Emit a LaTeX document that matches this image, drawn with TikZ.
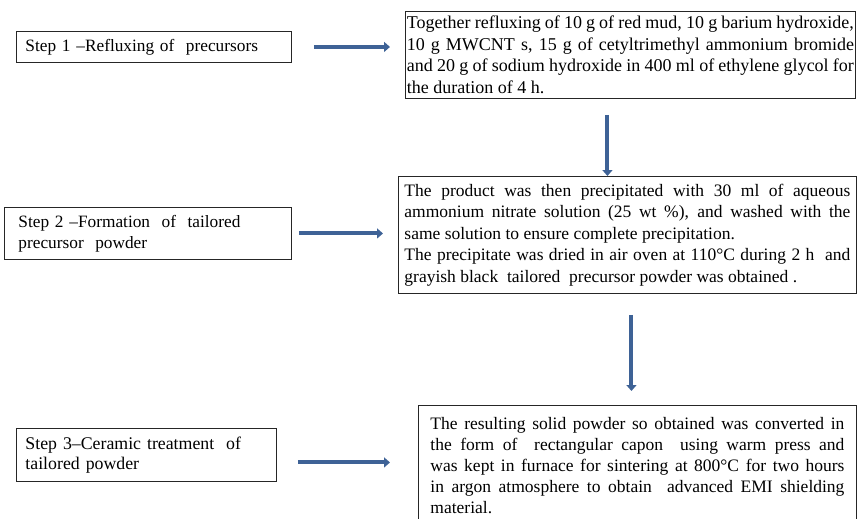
\documentclass[tikz,border=0pt]{standalone}
\usepackage{fontspec}
\setmainfont{Liberation Serif}
\usetikzlibrary{positioning, arrows.meta}
\definecolor{flowblue}{RGB}{62,98,150}

\begin{document}
\begin{tikzpicture}[
        x=1pt, y=-1pt,
        stepbox/.style={draw=black!85, line width=0.9pt, anchor=north west, align=left, inner xsep=9pt, font=\fontsize{17.3}{21}\selectfont},
        detailbox/.style={draw=black!85, line width=0.9pt, anchor=north west, align=justify, font=\fontsize{18}{21.5}\selectfont},
        flow/.style={flowblue, line width=4pt, -{Triangle[width=10pt, length=6pt]}}
    ]
    \useasboundingbox (0,0) rectangle (857,519);

    % steps on the left
    \node[stepbox, text width=257pt, minimum height=31pt] (step1) at (16,31) {Step 1 --Refluxing of\ \ precursors};
    \node[stepbox, text width=259pt, inner xsep=14pt, minimum height=52pt] (step2) at (4,207) {Step 2 --Formation\ \ of\ \ tailored\\ precursor\ \ powder};
    \node[stepbox, text width=242pt, minimum height=53pt, font=\fontsize{17.8}{19.5}\selectfont] (step3) at (16,428) {Step 3--Ceramic treatment\ \ of\\ tailored powder};

    % details on the right
    \node[detailbox, text width=447pt, inner xsep=1.5pt, minimum height=87pt] (detail1) at (405,11)
    {
        Together refluxing of 10 g of red mud, 10 g barium hydroxide,\linebreak
        10 g MWCNT s, 15 g of cetyltrimethyl ammonium bromide\linebreak
        and 20 g of sodium hydroxide in 400 ml of ethylene glycol for\linebreak
        the duration of 4 h.
    };
    \node[detailbox, text width=446pt, inner xsep=6pt, minimum height=117pt, font=\fontsize{17.5}{21.5}\selectfont] (detail2) at (398,176)
    {
        The product was then precipitated with 30 ml of aqueous\linebreak
        ammonium nitrate solution (25 wt \%), and washed with the\linebreak
        same solution to ensure complete precipitation.\par
        The precipitate was dried in air oven at 110°C during 2 h\ \ and\linebreak
        grayish black\ \ tailored\ \ precursor powder was obtained .
    };
    % box runs past the lower edge
    \node[detailbox, text width=414pt, inner xsep=12pt, minimum height=134pt, font=\fontsize{17.5}{21}\selectfont] (detail3) at (418,405)
    {
        The resulting solid powder so obtained was converted in\linebreak
        the form of\ \ rectangular capon\ \ using warm press and\linebreak
        was kept in furnace for sintering at 800°C for two hours\linebreak
        in argon atmosphere to obtain\ \ advanced EMI shielding\linebreak
        material.\rule[-15pt]{0pt}{1pt}
    };

    \draw[flow, shorten <=22pt, shorten >=15pt] (step1.east) -- (step1.east -| detail1.west);
    \draw[flow, shorten <=7pt, shorten >=15pt] (step2.east) -- (step2.east -| detail2.west);
    \draw[flow, shorten <=21pt, shorten >=28pt] ([yshift=-7.5pt]step3.east) -- ([yshift=-7.5pt]step3.east -| detail3.west);

    \draw[flow, shorten <=16pt] ([xshift=-23pt]detail1.south) -- ([xshift=-23pt]detail1.south |- detail2.north);
    \draw[flow, shorten <=21pt, shorten >=14pt] ([xshift=4pt]detail2.south) -- ([xshift=4pt]detail2.south |- detail3.north);
\end{tikzpicture}
\end{document}
